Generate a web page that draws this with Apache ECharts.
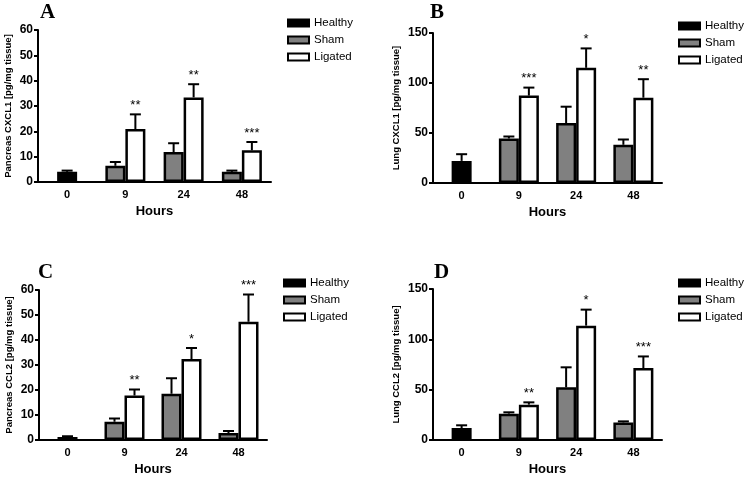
<!DOCTYPE html>
<html><head><meta charset="utf-8">
<script src="https://cdn.jsdelivr.net/npm/echarts@6/dist/echarts.min.js"></script>
<style>html,body{margin:0;padding:0;background:#fff}#c{width:747px;height:479px}</style>
</head><body><div id="c"></div>
<script>
// ---------- data ----------
const hours = ['0', '9', '24', '48'];
const groupNames = ['Healthy', 'Sham', 'Ligated'];

// Panel A : Pancreas CXCL1
const aHealthy = 4.0, aHealthySem = 0.5;
const aSham = [6.4, 11.8, 4.0];
const aShamSem = [1.5, 3.5, 0.5];
const aLigated = [20.9, 33.4, 12.5];
const aLigatedSem = [5.8, 5.2, 3.3];
const aStars = ['**', '**', '***'];

// Panel B : Lung CXCL1
const bHealthy = 22.1, bHealthySem = 6.7;
const bSham = [44.5, 59.9, 38.2];
const bShamSem = [2.0, 16.4, 5.3];
const bLigated = [87.4, 115.2, 85.3];
const bLigatedSem = [8.0, 19.4, 18.5];
const bStars = ['***', '*', '**'];

// Panel C : Pancreas CCL2
const cHealthy = 1.2, cHealthySem = 0.3;
const cSham = [7.3, 18.5, 2.8];
const cShamSem = [1.3, 6.2, 0.8];
const cLigated = [17.8, 32.4, 47.3];
const cLigatedSem = [2.4, 4.4, 10.9];
const cStars = ['**', '*', '***'];

// Panel D : Lung CCL2
const dHealthy = 11.9, dHealthySem = 2.7;
const dSham = [26.2, 52.3, 17.5];
const dShamSem = [1.3, 19.9, 1.0];
const dLigated = [35.1, 113.6, 71.5];
const dLigatedSem = [2.3, 15.9, 11.5];
const dStars = ['**', '*', '***'];

const letters = ['A', 'B', 'C', 'D'];
const yNames = ['Pancreas CXCL1 [pg/mg tissue]', 'Lung CXCL1 [pg/mg tissue]',
                'Pancreas CCL2 [pg/mg tissue]', 'Lung CCL2 [pg/mg tissue]'];
const yMaxes = [60, 150, 60, 150];
const ySteps = [10, 50, 10, 50];

// ---------- layout ----------
const FONT = '"Liberation Sans", Arial, Helvetica, sans-serif';
const BAR_W = 20;
const layout = [
  {grid: {left: 38, top: 30, width: 233, height: 152}, nameGap: 25, legend: {left: 287, top: 17}, title: {left: 40, top: 2}},
  {grid: {left: 433, top: 33, width: 229, height: 150}, nameGap: 32, legend: {left: 678, top: 20}, title: {left: 430, top: 2}},
  {grid: {left: 39, top: 290, width: 228, height: 150}, nameGap: 25, legend: {left: 283, top: 277}, title: {left: 38, top: 262}},
  {grid: {left: 433, top: 289, width: 229, height: 151}, nameGap: 32, legend: {left: 678, top: 277}, title: {left: 434, top: 262}}
];

const panels = [
  {healthy: aHealthy, healthySem: aHealthySem, sham: aSham, shamSem: aShamSem, lig: aLigated, ligSem: aLigatedSem, stars: aStars},
  {healthy: bHealthy, healthySem: bHealthySem, sham: bSham, shamSem: bShamSem, lig: bLigated, ligSem: bLigatedSem, stars: bStars},
  {healthy: cHealthy, healthySem: cHealthySem, sham: cSham, shamSem: cShamSem, lig: cLigated, ligSem: cLigatedSem, stars: cStars},
  {healthy: dHealthy, healthySem: dHealthySem, sham: dSham, shamSem: dShamSem, lig: dLigated, ligSem: dLigatedSem, stars: dStars}
];

const option = {
  backgroundColor: '#fff',
  animation: false,
  title: [], grid: [], xAxis: [], yAxis: [], legend: [], series: []
};

const barBorder = {borderColor: '#000', borderWidth: 2.5};

panels.forEach((p, i) => {
  const L = layout[i];
  option.title.push({text: letters[i], left: L.title.left, top: L.title.top, padding: 0,
    textStyle: {fontFamily: '"Liberation Serif", "Times New Roman", serif', fontWeight: 'bold', fontSize: 21, color: '#000'}});
  option.grid.push(Object.assign({containLabel: false}, L.grid));
  option.xAxis.push({
    type: 'category', gridIndex: i, data: hours,
    axisLine: {lineStyle: {color: '#000', width: 2}},
    axisTick: {alignWithLabel: true, length: 5, lineStyle: {color: '#000', width: 2}},
    axisLabel: {color: '#000', fontWeight: 'bold', fontSize: 11, fontFamily: FONT, margin: 7},
    name: 'Hours', nameLocation: 'middle', nameGap: 23,
    nameTextStyle: {color: '#000', fontWeight: 'bold', fontSize: 13, fontFamily: FONT}
  });
  option.xAxis.push({type: 'category', gridIndex: i, data: hours, show: false});
  option.yAxis.push({
    type: 'value', gridIndex: i, min: 0, max: yMaxes[i], interval: ySteps[i],
    axisLine: {show: true, lineStyle: {color: '#000', width: 2}},
    axisTick: {show: true, length: 4, lineStyle: {color: '#000', width: 2}},
    splitLine: {show: false},
    axisLabel: {color: '#000', fontWeight: 'bold', fontSize: 12, fontFamily: FONT, margin: 5},
    name: yNames[i], nameLocation: 'middle', nameGap: L.nameGap, nameRotate: 90,
    nameTextStyle: {color: '#000', fontWeight: 'bold', fontSize: 9.5, fontFamily: FONT}
  });
  option.legend.push({
    data: groupNames, orient: 'vertical', left: L.legend.left, top: L.legend.top, padding: 0,
    icon: 'rect', itemWidth: 21, itemHeight: 7, itemGap: 5, selectedMode: false,
    textStyle: {fontSize: 11.5, color: '#000', fontFamily: FONT, padding: [0, 0, 0, 0]}
  });

  const xi = 2 * i;
  option.series.push({
    name: 'Healthy', type: 'bar', xAxisIndex: xi + 1, yAxisIndex: i, barWidth: BAR_W,
    data: [p.healthy, '-', '-', '-'],
    itemStyle: Object.assign({color: '#000'}, barBorder)
  });
  option.series.push({
    name: 'Sham', type: 'bar', xAxisIndex: xi, yAxisIndex: i, barWidth: BAR_W, barGap: '0%',
    data: ['-'].concat(p.sham),
    itemStyle: Object.assign({color: '#808080'}, barBorder)
  });
  option.series.push({
    name: 'Ligated', type: 'bar', xAxisIndex: xi, yAxisIndex: i, barWidth: BAR_W, barGap: '0%',
    data: ['-'].concat(p.lig),
    itemStyle: Object.assign({color: '#fff'}, barBorder)
  });

  // error bars: [category, mean, sem, slot(-1 sham, 0 healthy, 1 ligated)]
  const errData = [[0, p.healthy, p.healthySem, 0]];
  const starText = [''];
  p.sham.forEach((v, k) => { errData.push([k + 1, v, p.shamSem[k], -1]); starText.push(''); });
  p.lig.forEach((v, k) => { errData.push([k + 1, v, p.ligSem[k], 1]); starText.push(p.stars[k]); });

  option.series.push({
    type: 'custom', xAxisIndex: xi, yAxisIndex: i, z: 5, silent: true,
    data: errData,
    renderItem: function (params, api) {
      const cat = api.value(0), m = api.value(1), s = api.value(2), slot = api.value(3);
      const base = api.coord([cat, m]);
      const top = api.coord([cat, m + s]);
      const x = base[0] + slot * BAR_W / 2;
      const children = [
        {type: 'line', shape: {x1: x, y1: base[1], x2: x, y2: top[1]}, style: {stroke: '#000', lineWidth: 2}},
        {type: 'line', shape: {x1: x - 5.5, y1: top[1], x2: x + 5.5, y2: top[1]}, style: {stroke: '#000', lineWidth: 2}}
      ];
      const st = starText[params.dataIndex];
      if (st) {
        children.push({type: 'text', style: {text: st, x: x, y: top[1] - 9, align: 'center', verticalAlign: 'middle',
          fontSize: 13, fontFamily: FONT, fontWeight: 'normal', fill: '#000'}});
      }
      return {type: 'group', children: children};
    }
  });
});

const chart = echarts.init(document.getElementById('c'), null, {renderer: 'canvas'});
chart.setOption(option);
</script>
</body></html>
